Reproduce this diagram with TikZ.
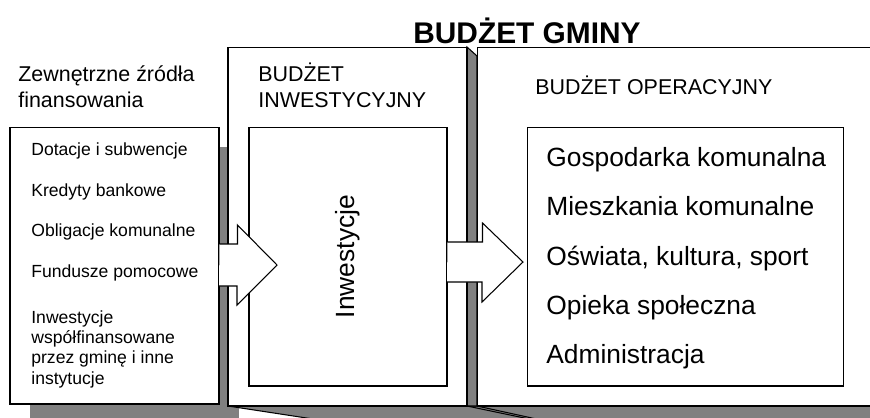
\documentclass[tikz,border=0pt]{standalone}
\usepackage{fontspec}
\setmainfont{Liberation Sans}
\definecolor{cien}{HTML}{808080}
\tikzset{
  ramka/.style={draw, fill=white, line width=0.6pt, inner sep=0pt},
  cienie/.style={draw, fill=cien, line width=0.6pt},
  strzalka/.style={draw, fill=white, line width=0.6pt, line join=miter},
  maly/.style={anchor=base west, inner sep=0pt, align=left, font=\fontsize{10}{11.5}\selectfont},
  sredni/.style={anchor=base west, inner sep=0pt, align=left, font=\fontsize{12.2}{14.8}\selectfont},
  duzy/.style={anchor=base west, inner sep=0pt, font=\fontsize{15}{18}\selectfont},
}
\begin{document}
\begin{tikzpicture}[x=0.02cm, y=-0.02cm]
  \useasboundingbox (0,0) rectangle (870,417);
  \clip (0,0) rectangle (870,417);
  % Shadows
  \fill[cien] (30,147) rectangle (239,430);
  \path[cienie] (228,406) -- (890,406) -- (890,430) -- (385,430) -- cycle;
  \path[cienie] (467,47) -- (477,56) -- (477,406) -- (467,406) -- cycle;
  \draw[line width=0.6pt] (467,406) -- (534,420);
  \draw[line width=0.6pt] (477,406) -- (541,420);
  % Nodes
  \node[ramka, minimum width=4.18cm, minimum height=5.54cm] (zrodla) at (114.5,265.5) {};
  \node[ramka, minimum width=4.78cm, minimum height=7.18cm] (inwest) at (347.5,226.5) {};
  \node[ramka, minimum width=8.26cm, minimum height=7.18cm] (operac) at (683.5,226.5) {};
  \node[ramka, minimum width=3.96cm, minimum height=5.18cm] (inwestycje) at (348,256.5) {};
  \node[ramka, minimum width=6.34cm, minimum height=5.18cm] (zadania) at (685.5,256.5) {};
  \coordinate (t1) at (277,265);
  \coordinate (t2) at (523,262);
  % Connection
  \draw[strzalka] (zrodla.east |- t1) ++(0,-21) -- ++(18,0) -- ++(0,-19) -- (t1)
    -- ++(-40,40) -- ++(0,-19) -- ++(-18,0);
  \draw[strzalka] (inwestycje.east |- t2) ++(0,-20) -- ++(35,0) -- ++(0,-19) -- (t2)
    -- ++(-41,40) -- ++(0,-20) -- ++(-35,0);
  % Labels (base of a multi-line label = its last line)
  \node[anchor=base, inner sep=0pt, font=\bfseries\fontsize{17}{20}\selectfont] (tytul) at (527,43) {BUDŻET GMINY};
  \node[sredni] (zewn) at (18,107) {Zewnętrzne źródła\\finansowania};
  \node[sredni] (budinw) at (258,107) {BUDŻET\\INWESTYCYJNY};
  \node[sredni] (budop) at (535,94) {BUDŻET OPERACYJNY};
  \node[maly] (dot) at (31,155) {Dotacje i subwencje};
  \node[maly] (kred) at (31,196) {Kredyty bankowe};
  \node[maly] (obl) at (31,236) {Obligacje komunalne};
  \node[maly] (fund) at (31,277) {Fundusze pomocowe};
  \node[maly] (wsp) at (31,384) {Inwestycje\\współfinansowane\\przez gminę i inne\\instytucje};
  \node[inner sep=0pt, rotate=90, font=\fontsize{15}{18}\selectfont] (inwtxt) at (inwestycje.center) {Inwestycje};
  \node[duzy] (gosp) at (546,166) {Gospodarka komunalna};
  \node[duzy] (mieszk) at (546,215) {Mieszkania komunalne};
  \node[duzy] (oswiata) at (546,265) {Oświata, kultura, sport};
  \node[duzy] (opieka) at (546,314) {Opieka społeczna};
  \node[duzy] (admin) at (546,363) {Administracja};
\end{tikzpicture}
\end{document}
